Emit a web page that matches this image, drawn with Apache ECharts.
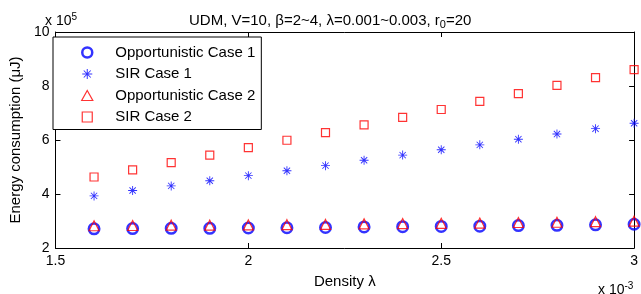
<!DOCTYPE html>
<html>
<head>
<meta charset="utf-8">
<script src="https://cdn.jsdelivr.net/npm/echarts@6/dist/echarts.min.js"></script>
<style>
  html, body { margin: 0; padding: 0; background: #fff; }
</style>
</head>
<body>
<div id="main" style="width: 641px;height:294px;"></div>
<script>
// density λ (x 10^-3)
const density = [1.6, 1.7, 1.8, 1.9, 2.0, 2.1, 2.2, 2.3, 2.4, 2.5, 2.6, 2.7, 2.8, 2.9, 3.0];
// energy consumption (x 10^5 μJ)
const oppCase1 = [2.71, 2.72, 2.73, 2.73, 2.74, 2.75, 2.76, 2.78, 2.79, 2.80, 2.81, 2.83, 2.84, 2.86, 2.88];
const sirCase1 = [3.93, 4.13, 4.30, 4.49, 4.68, 4.86, 5.05, 5.25, 5.44, 5.64, 5.82, 6.03, 6.22, 6.42, 6.62];
const oppCase2 = [2.75, 2.76, 2.77, 2.77, 2.78, 2.79, 2.80, 2.82, 2.83, 2.84, 2.85, 2.87, 2.88, 2.90, 2.92];
const sirCase2 = [4.63, 4.89, 5.16, 5.44, 5.72, 5.99, 6.27, 6.56, 6.84, 7.13, 7.43, 7.72, 8.02, 8.31, 8.61];
const seriesNames = ["Opportunistic Case 1", "SIR Case 1", "Opportunistic Case 2", "SIR Case 2"];
const xTicks = [1.5, 2, 2.5, 3];
const yTicks = [2, 4, 6, 8, 10];

const font = "Liberation Sans, Arial, sans-serif";
const blue = "#0000ff";
const red = "#ff0000";
// matlab style markers as paths, so the legend keeps their aspect
const asterisk = "path://M-5,-0.5L5,-0.5L5,0.5L-5,0.5Z M-0.5,-5L0.5,-5L0.5,5L-0.5,5Z " +
  "M-3.15,-3.85L3.85,3.15L3.15,3.85L-3.85,-3.15Z M-3.85,3.15L3.15,-3.85L3.85,-3.15L-3.15,3.85Z";
const triangle = "path://M5,0L10,9L0,9Z";
const square = "path://M0,0L10,0L10,10L0,10Z";

const pairs = (ys) => density.map((x, i) => [x, ys[i]]);

const chartDom = document.getElementById("main");
const myChart = echarts.init(chartDom, null, { renderer: "canvas" });

const tickFmt = (v) => String(+v.toFixed(1));

const axisCommon = {
  type: "value",
  axisLine: { show: true, onZero: false, lineStyle: { color: "#000", width: 1 } },
  axisTick: { show: true, inside: true, length: 5, lineStyle: { color: "#000" } },
  splitLine: { show: false },
};

const option = {
  backgroundColor: "#fff",
  animation: false,
  title: [
    {
      text: "UDM, V=10, β=2~4, λ=0.001~0.003, r{sub|0}=20",
      left: 189,
      top: 11,
      padding: 0,
      textStyle: {
        fontFamily: font, fontSize: 15, fontWeight: "normal", color: "#000",
        rich: { sub: { fontFamily: font, fontSize: 11, color: "#000", padding: [8, 0, 0, 0] } },
      },
    },
    {
      text: "x 10{sup|5}",
      left: 45,
      top: 12,
      padding: 0,
      textStyle: {
        fontFamily: font, fontSize: 14, fontWeight: "normal", color: "#000",
        rich: { sup: { fontFamily: font, fontSize: 10, color: "#000", padding: [0, 0, 8, 0] } },
      },
    },
    {
      text: "x 10{sup|-3}",
      left: 598,
      top: 281,
      padding: 0,
      textStyle: {
        fontFamily: font, fontSize: 14, fontWeight: "normal", color: "#000",
        rich: { sup: { fontFamily: font, fontSize: 10, color: "#000", padding: [0, 0, 8, 0] } },
      },
    },
  ],
  legend: {
    orient: "vertical",
    left: 53,
    top: 37,
    padding: [8, 6, 5, 28],
    itemWidth: 46,
    itemHeight: 10,
    itemGap: 6.5,
    backgroundColor: "#fff",
    borderColor: "#000",
    borderWidth: 1,
    borderRadius: 0,
    selectedMode: false,
    textStyle: { fontFamily: font, fontSize: 15, color: "#000" },
    data: [
      { name: seriesNames[0], itemStyle: { borderWidth: 2.5 } },
      { name: seriesNames[1] },
      { name: seriesNames[2], itemStyle: { borderWidth: 1.2 } },
      { name: seriesNames[3], itemStyle: { borderWidth: 1.2 } },
    ],
  },
  grid: { left: 45, right: 3, top: 32, bottom: 43 },
  xAxis: [
    {
      ...axisCommon,
      position: "bottom",
      min: 1.5,
      max: 3,
      interval: 0.5,
      name: "Density λ",
      nameLocation: "middle",
      nameGap: 26,
      nameTextStyle: { fontFamily: font, fontSize: 15, color: "#000" },
      axisLabel: {
        fontFamily: font, fontSize: 14, color: "#000", margin: 6,
        formatter: (v) => (xTicks.indexOf(+v.toFixed(1)) > -1 ? tickFmt(v) : ""),
      },
    },
    {
      ...axisCommon,
      position: "top",
      min: 1.5,
      max: 3,
      interval: 0.5,
      axisLabel: { show: false },
    },
  ],
  yAxis: [
    {
      ...axisCommon,
      position: "left",
      min: 2,
      max: 10,
      interval: 2,
      name: "Energy consumption (μJ)",
      nameLocation: "middle",
      nameGap: 24,
      nameTextStyle: { fontFamily: font, fontSize: 15, color: "#000" },
      axisLabel: {
        fontFamily: font, fontSize: 14, color: "#000", margin: 6,
        formatter: (v) => (yTicks.indexOf(v) > -1 ? String(v) : ""),
      },
    },
    {
      ...axisCommon,
      position: "right",
      min: 2,
      max: 10,
      interval: 2,
      axisLabel: { show: false },
    },
  ],
  series: [
    {
      name: seriesNames[0],
      type: "scatter",
      data: pairs(oppCase1),
      symbol: "circle",
      symbolSize: 10.5,
      itemStyle: { color: "transparent", borderColor: blue, borderWidth: 2.5 },
    },
    {
      name: seriesNames[1],
      type: "scatter",
      data: pairs(sirCase1),
      symbol: asterisk,
      symbolSize: 9,
      itemStyle: { color: blue },
    },
    {
      name: seriesNames[2],
      type: "scatter",
      data: pairs(oppCase2),
      symbol: triangle,
      symbolSize: 10,
      symbolOffset: [0, -2],
      itemStyle: { color: "transparent", borderColor: red, borderWidth: 1.2 },
    },
    {
      name: seriesNames[3],
      type: "scatter",
      data: pairs(sirCase2),
      symbol: square,
      symbolSize: 8,
      itemStyle: { color: "transparent", borderColor: red, borderWidth: 1.2 },
    },
  ],
};

option && myChart.setOption(option);
</script>
</body>
</html>
